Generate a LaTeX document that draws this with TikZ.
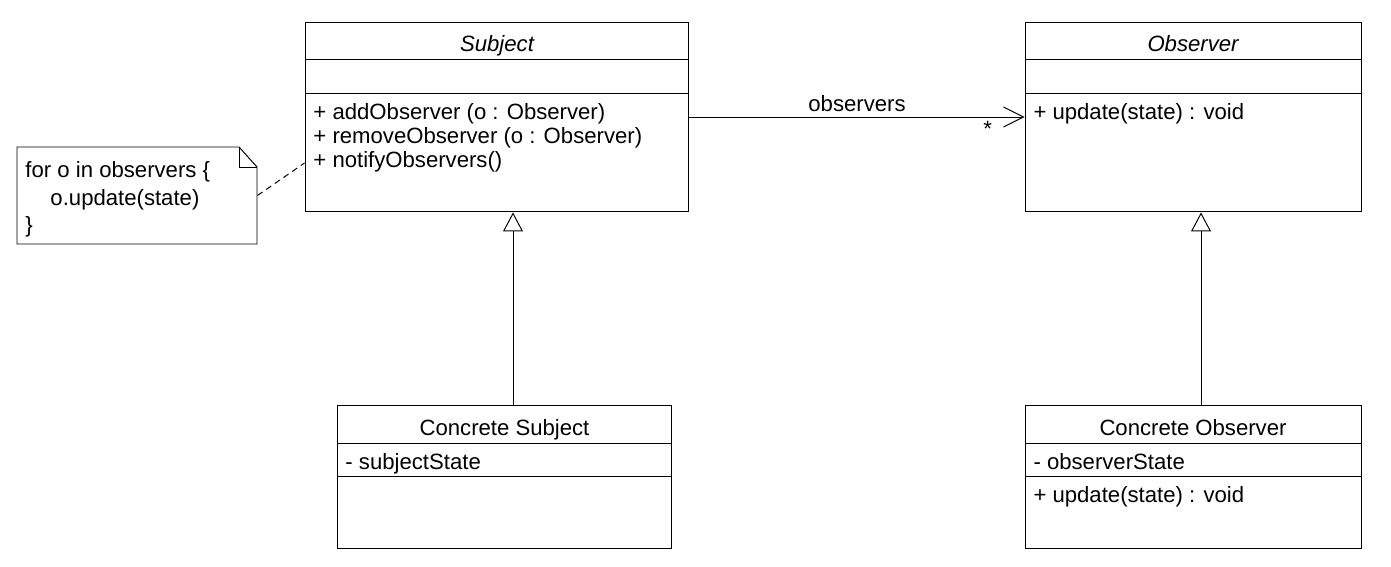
\documentclass[tikz,border=0pt]{standalone}
\usepackage{fontspec}
\setmainfont{Liberation Sans}
\usepackage{tikz}
\usetikzlibrary{arrows.meta, positioning, calc}

\begin{document}
\begin{tikzpicture}[x=0.02cm, y=-0.02cm, line width=0.55pt,
        font=\fontsize{12.6}{14}\selectfont,
        every node/.style={text height=0.75em, text depth=0.22em},
        cls/.style={draw, rectangle, inner sep=0},
        txt/.style={anchor=west, inner sep=0},
        assoc/.style={-{Straight Barb[length=0.4cm, width=0.4cm]}},
        inherit/.style={-{Triangle[open, length=0.38cm, width=0.4cm]}}]
        \useasboundingbox (0,0) rectangle (1391,567);

        % Subject
        \node[cls, minimum width=7.68cm, minimum height=3.8cm] (subj) at (497,117) {};
        \draw (305,59) -- (689,59) (305,93) -- (689,93);
        \node (subjname) at (497,47) {\itshape Subject};
        \node[txt] (add) at (313,115) {+ addObserver (o : Observer)};
        \node[txt] (rem) at (313,139) {+ removeObserver (o : Observer)};
        \node[txt] (nfy) at (313,163) {+ notifyObservers()};

        % Observer
        \node[cls, minimum width=6.72cm, minimum height=3.8cm] (obs) at (1193,117) {};
        \draw (1025,59) -- (1361,59) (1025,93) -- (1361,93);
        \node (obsname) at (1193,47) {\itshape Observer};
        \node[txt] (upd) at (1033,115) {+ update(state) : void};

        % Concrete Subject
        \node[cls, minimum width=6.7cm, minimum height=2.86cm] (csub) at (504.5,476.5) {};
        \draw (337,443) -- (672,443) (337,476) -- (672,476);
        \node (csubname) at (504.5,431) {Concrete Subject};
        \node[txt] (sstate) at (345,465) {- subjectState};

        % Concrete Observer
        \node[cls, minimum width=6.72cm, minimum height=2.86cm] (cobs) at (1193,476.5) {};
        \draw (1025,443) -- (1361,443) (1025,476) -- (1361,476);
        \node (cobsname) at (1193,431) {Concrete Observer};
        \node[txt] (ostate) at (1033,465) {- observerState};
        \node[txt] (cupd) at (1033,498) {+ update(state) : void};

        % note
        \node[minimum width=4.8cm, minimum height=1.94cm, inner sep=0] (note) at (137,195.5) {};
        \draw (17,147) -- (239,147) -- (257,167) -- (257,244) -- (17,244) -- cycle;
        \draw (239,147) -- (239,167) -- (257,167);
        \node[txt] (for) at (25,173) {for o in observers \{};
        \node[txt] (call) at (50,201) {o.update(state)};
        \node[txt] (close) at (25,228) {\}};
        \draw[dashed, dash pattern=on 3.5pt off 2.5pt] (note.east) -- ([yshift=-0.92cm]subj.west);

        % relations
        \draw[assoc] (subj.east) -- (obs.west)
            node[midway, above=-2.5pt] {observers}
            node[pos=0.89, below=0pt] {*};
        \draw[inherit] ([xshift=0.17cm]csub.north) -- ([xshift=0.17cm]csub.north |- subj.south);
        \draw[inherit] ([xshift=0.16cm]cobs.north) -- ([xshift=0.16cm]cobs.north |- obs.south);
    \end{tikzpicture}
\end{document}
